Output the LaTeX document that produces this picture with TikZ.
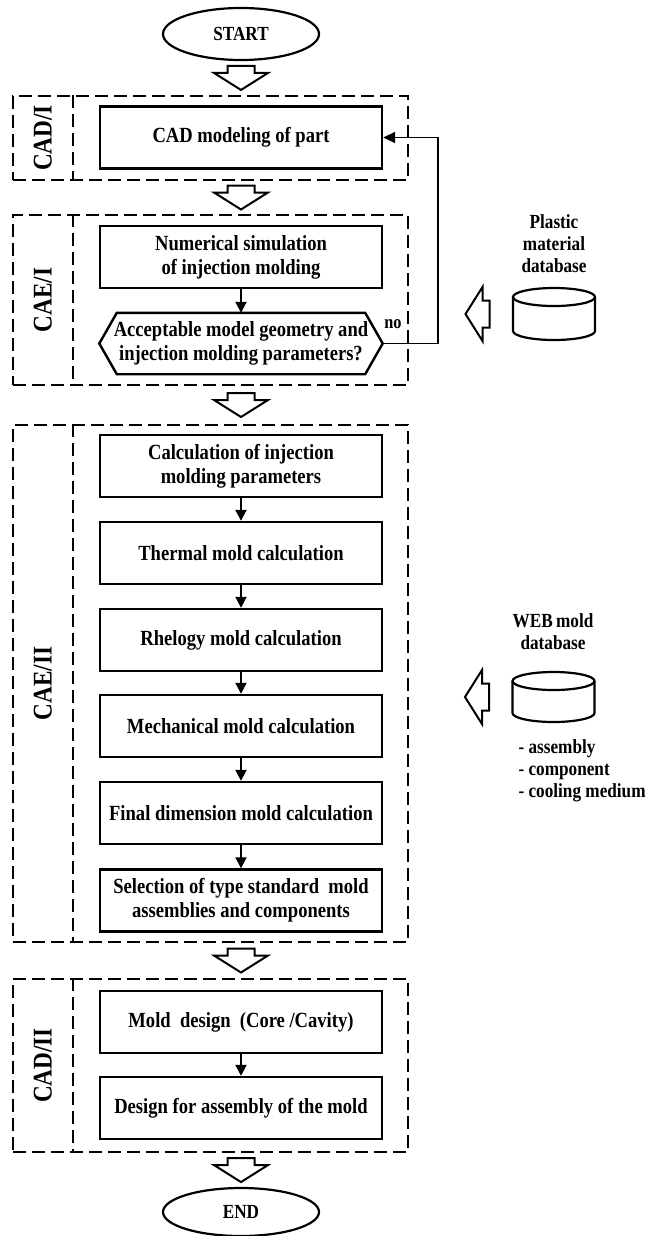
\documentclass[tikz,border=0pt]{standalone}
\usepackage{fontspec}
\setmainfont{Liberation Serif}[FakeStretch=0.86]
\usetikzlibrary{calc,arrows.meta,shapes.geometric}
\tikzset{
  boxline/.style={draw, line width=2.4pt, line join=miter},
  box/.style={boxline, minimum width=282pt, minimum height=62pt, inner sep=0pt,
    align=center, font=\fontsize{21.6}{24}\selectfont\bfseries},
  decbox/.style={minimum width=283pt, minimum height=61pt, inner sep=0pt,
    align=center, font=\fontsize{21.6}{24}\selectfont\bfseries},
  term/.style={ellipse, draw, line width=2.2pt, minimum width=156pt,
    minimum height=52pt, inner sep=0pt, font=\fontsize{20}{24}\selectfont\bfseries},
  grp/.style={draw, dash pattern=on 13pt off 6pt, line width=2.4pt, inner sep=0pt},
  lbl/.style={rotate=90, font=\fontsize{27}{30}\selectfont\bfseries},
  flow/.style={line width=2pt, -{Triangle[length=11pt,width=11pt]}},
  fb/.style={line width=1.8pt, -{Triangle[length=12pt,width=11pt]}},
  hollow/.style={draw, fill=white, line width=2pt, line join=miter},
  dbline/.style={draw, line width=2.2pt},
  dbnode/.style={minimum width=82pt, minimum height=52pt, inner sep=0pt, outer sep=0pt},
  dbtxt/.style={align=center, font=\fontsize{20}{22}\selectfont\bfseries},
  nolbl/.style={font=\fontsize{19}{22}\selectfont\bfseries}
}
% hollow block arrow, centre #1, turned by #2
\newcommand{\blockarrow}[2]{%
  \draw[hollow, shift={#1}, rotate=#2]
    (-13.5,12) -- (13.5,12) -- (13.5,5) -- (27,5) -- (0,-12)
    -- (-27,5) -- (-13.5,5) -- cycle;
}
% database drum on node #1
\newcommand{\dbcyl}[1]{%
  \draw[dbline] ([yshift=-9pt]#1.north west) -- ([yshift=9pt]#1.south west)
    arc[start angle=180, end angle=360, x radius=41pt, y radius=9pt]
    -- ([yshift=-9pt]#1.north east);
  \draw[dbline] ([yshift=-9pt]#1.north) ellipse[x radius=41pt, y radius=9pt];
}
\begin{document}
\begin{tikzpicture}[x=1pt,y=1pt]
  \useasboundingbox (0,0) rectangle (647,-1236);

  % stage frames
  \node[grp, minimum width=395pt, minimum height=84pt]  (gcadI)   at (210.5,-138) {};
  \node[grp, minimum width=395pt, minimum height=170pt] (gcaeI)   at (210.5,-300) {};
  \node[grp, minimum width=395pt, minimum height=517pt] (gcaeII)  at (210.5,-683.5) {};
  \node[grp, minimum width=395pt, minimum height=173pt] (gcadII)  at (210.5,-1065.5) {};
  \foreach \g in {gcadI,gcaeI,gcaeII,gcadII}
    \draw[grp] ([xshift=61pt]\g.north west) -- ([xshift=61pt]\g.south west);
  \node[lbl] (lcadI)  at ([xshift=31pt]gcadI.west)  {CAD/I};
  \node[lbl] (lcaeI)  at ([xshift=31pt]gcaeI.west)  {CAE/I};
  \node[lbl] (lcaeII) at ([xshift=31pt]gcaeII.west) {CAE/II};
  \node[lbl] (lcadII) at ([xshift=31pt]gcadII.west) {CAD/II};

  % flow
  \node[term] (start) at (241,-34) {START};
  \node[box] (cad)    at (241,-137.5) {CAD modeling of part};
  \node[box] (numsim) at (241,-257) {Numerical simulation\\of injection molding};
  \node[decbox] (check) at (241,-343.5)
    {Acceptable model geometry and\\injection molding parameters?};
  \draw[boxline] (check.west) -- ([xshift=17.5pt]check.north west)
    -- ([xshift=-17.5pt]check.north east) -- (check.east)
    -- ([xshift=-17.5pt]check.south east) -- ([xshift=17.5pt]check.south west) -- cycle;
  \node[box] (calc)    at (241,-466)   {Calculation of injection\\molding parameters};
  \node[box] (thermal) at (241,-553)   {Thermal mold calculation};
  \node[box] (rheo)    at (241,-640)   {Rhelogy mold calculation};
  \node[box] (mech)    at (241,-726)   {Mechanical mold calculation};
  \node[box] (final)   at (241,-813)   {Final dimension mold calculation};
  \node[box] (select)  at (241,-900.5) {Selection of type standard~ mold\\assemblies and components};
  \node[box] (molddes) at (241,-1022)  {Mold~ design~ (Core /Cavity)};
  \node[box] (assy)    at (241,-1108)  {Design for assembly of the mold};
  \node[term, minimum height=48pt] (endn) at (241,-1212) {END};

  \draw[flow] (numsim) -- (check);
  \foreach \a/\b in {calc/thermal,thermal/rheo,rheo/mech,mech/final,final/select,molddes/assy}
    \draw[flow] (\a) -- (\b);

  % loop back
  \draw[fb] (check.east) -- ++(55.5,0) |- (cad.east);
  \node[nolbl] (nolbl) at (393,-324) {no};

  % block arrows between stages
  \blockarrow{($(start.south)!.5!(start.south |- gcadI.north)$)}{0}
  \blockarrow{($(cad.south |- gcadI.south)!.5!(cad.south |- gcaeI.north)$)}{0}
  \blockarrow{($(cad.south |- gcaeI.south)!.5!(cad.south |- gcaeII.north)$)}{0}
  \blockarrow{($(cad.south |- gcaeII.south)!.5!(cad.south |- gcadII.north)$)}{0}
  \blockarrow{($(cad.south |- gcadII.south)!.5!(endn.north)$)}{0}

  % databases
  \node[dbtxt] (plasttxt) at (554,-244) {Plastic\\material\\database};
  \node[dbnode] (plastdb) at (554,-314) {};
  \dbcyl{plastdb}
  \blockarrow{($(plastdb.west)+(-35.5,0)$)}{-90}

  \node[dbtxt] (webtxt) at (553,-631.5) {WEB\,mold\\database};
  \node[dbnode, minimum height=50pt] (webdb) at (553.5,-697) {};
  \dbcyl{webdb}
  \blockarrow{($(webdb.west)+(-35.5,0)$)}{-90}
  \node[dbtxt, align=left, anchor=west] (weblist) at (515,-771)
    {- assembly\\- component\\- cooling medium};
\end{tikzpicture}
\end{document}
